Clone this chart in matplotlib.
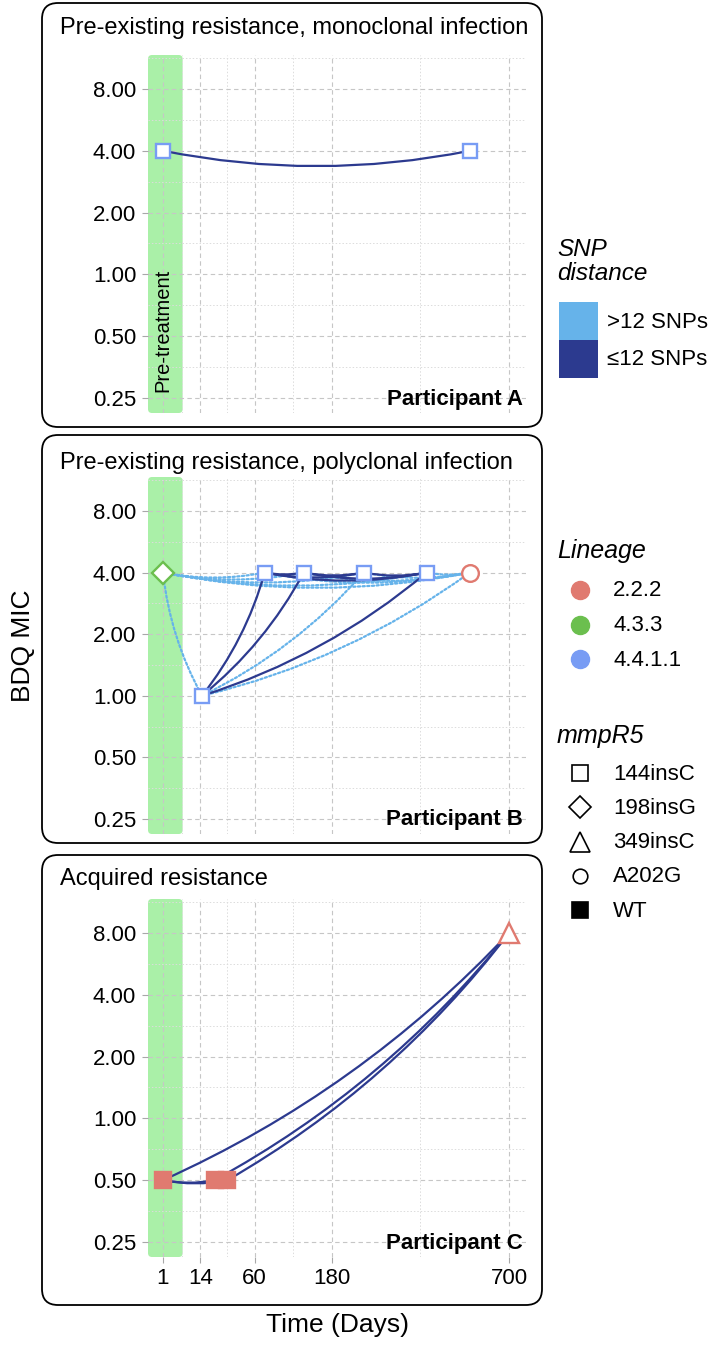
import numpy as np
import matplotlib
matplotlib.use('Agg')
import matplotlib.pyplot as plt
from matplotlib.patches import FancyArrowPatch, FancyBboxPatch, Rectangle
from matplotlib.lines import Line2D

plt.rcParams['font.family'] = ['Liberation Sans', 'DejaVu Sans']

W, H = 714, 1346
DPI = 100

# ---------------- data ----------------
lineage_names = ['2.2.2', '4.3.3', '4.4.1.1']
lineage_colors = ['#E07A70', '#6BBF4E', '#789CF4']
mutation_names = ['144insC', '198insG', '349insC', 'A202G', 'WT']
snp_names = ['>12 SNPs', '≤12 SNPs']
snp_colors = ['#66B3EA', '#2C3A8F']

mic_ticks = [0.25, 0.5, 1, 2, 4, 8]
day_ticks = [1, 14, 60, 180, 700]
pretreatment_end = 6

titles = ['Pre-existing resistance, monoclonal infection',
          'Pre-existing resistance, polyclonal infection',
          'Acquired resistance']
participants = ['Participant A', 'Participant B', 'Participant C']

# participant A
a_days = [1, 556]
a_mic = [4, 4]
a_lineage = ['4.4.1.1', '4.4.1.1']
a_mut = ['144insC', '144insC']
a_edges = [(0, 1, '≤12 SNPs')]

# participant B
b_days = [1, 15, 72, 129, 249, 416, 556]
b_mic = [4, 1, 4, 4, 4, 4, 4]
b_lineage = ['4.3.3', '4.4.1.1', '4.4.1.1', '4.4.1.1', '4.4.1.1', '4.4.1.1', '2.2.2']
b_mut = ['198insG', '144insC', '144insC', '144insC', '144insC', '144insC', 'A202G']
b_edges = [(0, 1, '>12 SNPs'), (0, 2, '>12 SNPs'), (0, 3, '>12 SNPs'), (0, 4, '>12 SNPs'),
           (0, 5, '>12 SNPs'), (0, 6, '>12 SNPs'),
           (1, 4, '>12 SNPs'), (1, 6, '>12 SNPs'), (2, 6, '>12 SNPs'), (3, 6, '>12 SNPs'),
           (4, 6, '>12 SNPs'), (5, 6, '>12 SNPs'),
           (1, 2, '≤12 SNPs'), (1, 3, '≤12 SNPs'), (1, 5, '≤12 SNPs'),
           (2, 3, '≤12 SNPs'), (2, 4, '≤12 SNPs'), (2, 5, '≤12 SNPs'),
           (3, 4, '≤12 SNPs'), (3, 5, '≤12 SNPs'), (4, 5, '≤12 SNPs')]

# participant C
c_days = [1, 23, 33, 700]
c_mic = [0.5, 0.5, 0.5, 8]
c_lineage = ['2.2.2', '2.2.2', '2.2.2', '2.2.2']
c_mut = ['WT', 'WT', 'WT', '349insC']
c_edges = [(0, 1, '≤12 SNPs'), (0, 2, '≤12 SNPs'), (1, 2, '≤12 SNPs'),
           (0, 3, '≤12 SNPs'), (1, 3, '≤12 SNPs'), (2, 3, '≤12 SNPs')]

panels = [(a_days, a_mic, a_lineage, a_mut, a_edges),
          (b_days, b_mic, b_lineage, b_mut, b_edges),
          (c_days, c_mic, c_lineage, c_mut, c_edges)]

# ---------------- styling ----------------
# marker, filled, size in plot, size in legend
marker_style = {'144insC': ('s', False, 10.5, 11),
                '198insG': ('D', False, 11, 11),
                '349insC': ('^', False, 15, 15),
                'A202G': ('o', False, 12, 10.5),
                'WT': ('s', True, 12, 11.5)}
lin_col = dict(zip(lineage_names, lineage_colors))
snp_col = dict(zip(snp_names, snp_colors))
snp_ls = {'>12 SNPs': (0, (1, 1.1)), '≤12 SNPs': '-'}

GREEN = '#AAF0A8'
MAJ = '#C6C6C6'
MINR = '#DCDCDC'

# pixel layout: (box_top, box_bottom, ax_top, ax_bottom, title_y)
layout = [(3, 427, 55, 413, 28),
          (435, 843, 477, 834, 463),
          (855, 1305, 899, 1257, 879)]
AX_L, AX_R = 148, 526
BOX_L, BOX_R = 42, 542


def fx(px):
    return px / W


def fy(py):
    return 1 - py / H


def sfwd(x):
    x = np.asarray(x, dtype=float)
    return np.sign(x) * np.sqrt(np.abs(x))


def sinv(x):
    x = np.asarray(x, dtype=float)
    return np.sign(x) * x ** 2


fig = plt.figure(figsize=(W / DPI, H / DPI), dpi=DPI)
fig.patch.set_facecolor('white')

sq = sfwd(day_ticks)
day_minor = list(sinv((sq[:-1] + sq[1:]) / 2))
lg = np.log2(mic_ticks)
mic_minor = list(2 ** ((lg[:-1] + lg[1:]) / 2)) + [2 ** 3.5]

for i, (days, mic, lin, mut, edges) in enumerate(panels):
    btop, bbot, atop, abot, ty = layout[i]

    # panel frame
    box = FancyBboxPatch((BOX_L / DPI, (H - bbot) / DPI), (BOX_R - BOX_L) / DPI, (bbot - btop) / DPI,
                         boxstyle='round,pad=0,rounding_size=0.16', transform=fig.dpi_scale_trans,
                         fc='white', ec='black', lw=1.3, zorder=-3)
    fig.add_artist(box)

    ax = fig.add_axes([fx(AX_L), fy(abot), fx(AX_R - AX_L), (abot - atop) / H])
    ax.set_facecolor('none')
    ax.set_xscale('function', functions=(sfwd, sinv))
    ax.set_yscale('log', base=2)
    ax.set_xlim(-0.01, 767.8)
    ax.set_ylim(2 ** -2.243, 2 ** 3.55)
    for s in ax.spines.values():
        s.set_visible(False)

    ax.set_xticks(day_ticks)
    ax.set_xticks(day_minor, minor=True)
    ax.set_yticks(mic_ticks)
    ax.set_yticks(mic_minor, minor=True)
    ax.set_yticklabels([f'{v:.2f}' for v in mic_ticks])
    ax.set_xticklabels([str(d) for d in day_ticks])
    ax.tick_params(which='minor', length=0, labelleft=False, labelbottom=False)
    ax.tick_params(axis='y', which='major', length=4, width=0.8, color='#A8A8A8', pad=4.5,
                   labelsize=16, labelcolor='black')
    ax.tick_params(axis='x', which='major', length=4, width=0.8, color='#A8A8A8', pad=4,
                   labelsize=16, labelcolor='black')
    if i < 2:
        ax.tick_params(axis='x', which='major', length=0, labelbottom=False)
    ax.set_axisbelow(True)
    ax.grid(which='major', color=MAJ, ls=(0, (4, 3)), lw=0.8)
    ax.grid(which='minor', color=MINR, ls=(0, (1.5, 2)), lw=0.7)

    # pre-treatment band (rounded), in display units
    x0 = ax.transAxes.transform((0, 0))[0]
    x1 = ax.transData.transform((pretreatment_end, 1))[0]
    y0 = ax.transAxes.transform((0, 0))[1]
    y1 = ax.transAxes.transform((0, 1))[1]
    band = FancyBboxPatch((x0 / DPI, y0 / DPI), (x1 - x0) / DPI, (y1 - y0) / DPI,
                          boxstyle='round,pad=0,rounding_size=0.04', transform=fig.dpi_scale_trans,
                          fc=GREEN, ec='none', zorder=-2)
    fig.add_artist(band)

    # links
    for a, b, snp in edges:
        p = FancyArrowPatch((days[a], mic[a]), (days[b], mic[b]), arrowstyle='-',
                            connectionstyle='arc3,rad=0.1', shrinkA=0, shrinkB=0,
                            color=snp_col[snp], lw=1.6, ls=snp_ls[snp], zorder=2)
        ax.add_patch(p)

    # isolates
    for d, m, l, mu in zip(days, mic, lin, mut):
        mk, filled, ms, _ = marker_style[mu]
        ax.plot([d], [m], marker=mk, ms=ms, mec=lin_col[l], mew=1.7,
                mfc=lin_col[l] if filled else 'white', ls='none', zorder=4, clip_on=False)

    if i == 0:
        ax.text(1, 2 ** -1.9, 'Pre-treatment', rotation=90, ha='center', va='bottom', fontsize=14.5)

    fig.text(fx(60), fy(ty), titles[i], fontsize=17, ha='left', va='center')
    fig.text(fx(523), fy(abot - 14), participants[i], fontsize=16, fontweight='bold',
             ha='right', va='center')

fig.text(fx(23), fy(646), 'BDQ MIC', rotation=90, fontsize=19, ha='center', va='center')
fig.text(fx(337), fy(1325), 'Time (Days)', fontsize=19, ha='center', va='center')

# ---------------- legends ----------------
LX = 557
fig.text(fx(LX), fy(256), 'SNP', fontsize=17.5, style='italic', ha='left', va='baseline')
fig.text(fx(LX), fy(280), 'distance', fontsize=17.5, style='italic', ha='left', va='baseline')
for k, (name, col) in enumerate(zip(snp_names, snp_colors)):
    top = 302 + 38 * k
    fig.add_artist(Rectangle((fx(559), fy(top + 38)), fx(39), 38 / H, fc=col, ec='none',
                             transform=fig.transFigure))
    fig.text(fx(607), fy(top + 19 + 6.5), name, fontsize=16, ha='left', va='baseline')

fig.text(fx(LX), fy(558), 'Lineage', fontsize=18, style='italic', ha='left', va='baseline')
for k, (name, col) in enumerate(zip(lineage_names, lineage_colors)):
    yy = 590 + 34.5 * k
    fig.add_artist(Line2D([fx(580)], [fy(yy)], marker='o', ms=13, mfc=col, mec=col,
                          ls='none', transform=fig.transFigure))
    fig.text(fx(613), fy(yy + 6.5), name, fontsize=16, ha='left', va='baseline')

fig.text(fx(LX), fy(743), 'mmpR5', fontsize=18, style='italic', ha='left', va='baseline')
for k, name in enumerate(mutation_names):
    yy = 773 + 34.3 * k
    mk, filled, _, lms = marker_style[name]
    fig.add_artist(Line2D([fx(580)], [fy(yy)], marker=mk, ms=lms, mec='black', mew=1.2,
                          mfc='black' if filled else 'white', ls='none', transform=fig.transFigure))
    fig.text(fx(613), fy(yy + 6.5), name, fontsize=16, ha='left', va='baseline')

fig.savefig('out.png', dpi=DPI)
